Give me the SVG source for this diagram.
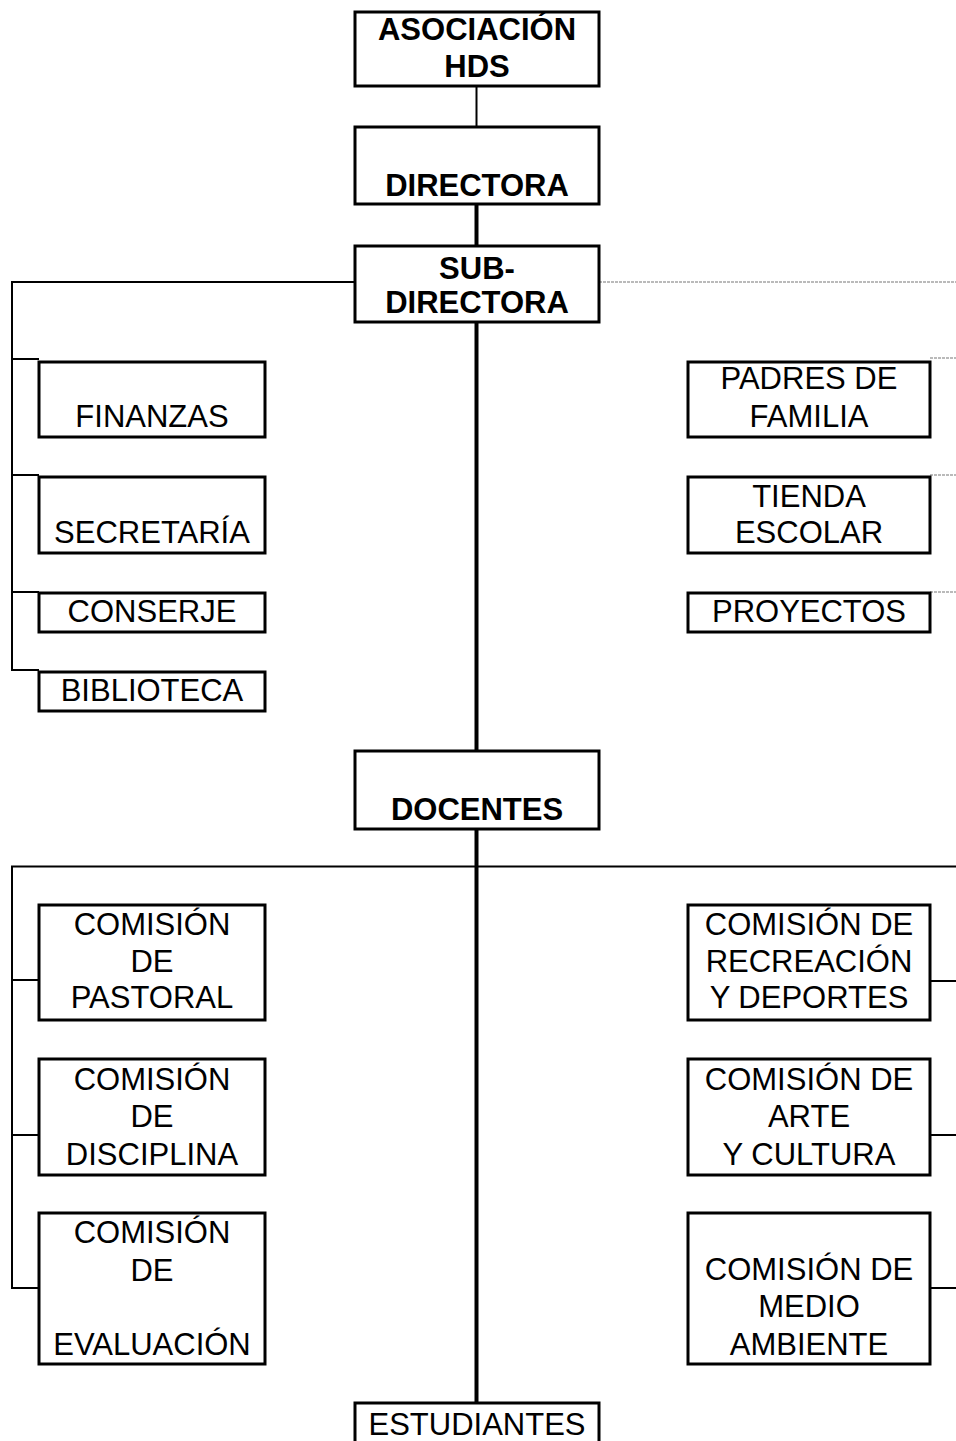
<svg xmlns="http://www.w3.org/2000/svg" width="956" height="1441" viewBox="0 0 956 1441">
<style>
.box{fill:#fff;stroke:#000;stroke-width:3}
.t{font-family:"Liberation Sans",Arial,sans-serif;font-size:31px;text-anchor:middle;fill:#000}
.b{font-weight:bold}
.c{stroke:#000;stroke-width:2;fill:none}
.k{stroke:#000;stroke-width:4;fill:none}
.d{stroke:#777;stroke-width:1.2;stroke-dasharray:3 1;fill:none}
</style>
<rect width="956" height="1441" fill="#fff"/>
<g id="connectors">
<line class="c" x1="476.5" y1="86" x2="476.5" y2="127"/>
<line class="k" x1="476.5" y1="204" x2="476.5" y2="246"/>
<polyline class="c" points="355,282 12,282 12,670 39,670"/>
<line class="c" x1="12" y1="359" x2="39" y2="359"/>
<line class="c" x1="12" y1="475" x2="39" y2="475"/>
<line class="c" x1="12" y1="592" x2="39" y2="592"/>
<line class="k" x1="476.5" y1="322" x2="476.5" y2="751"/>
<line class="d" x1="599" y1="282" x2="956" y2="282"/>
<line class="d" x1="930" y1="358" x2="956" y2="358"/>
<line class="d" x1="930" y1="475" x2="956" y2="475"/>
<line class="d" x1="930" y1="592" x2="956" y2="592"/>
<line class="k" x1="476.5" y1="829" x2="476.5" y2="1403"/>
<line class="c" x1="11" y1="866.5" x2="956" y2="866.5"/>
<line class="c" x1="12" y1="866" x2="12" y2="1289"/>
<line class="c" x1="12" y1="980" x2="39" y2="980"/>
<line class="c" x1="12" y1="1135" x2="39" y2="1135"/>
<line class="c" x1="12" y1="1288" x2="39" y2="1288"/>
<line class="c" x1="930" y1="981" x2="956" y2="981"/>
<line class="c" x1="930" y1="1135" x2="956" y2="1135"/>
<line class="c" x1="930" y1="1288" x2="956" y2="1288"/>
</g>
<g id="asociacion"><rect class="box" x="355" y="12" width="244" height="74"/><text class="t b" x="477" y="40">ASOCIACIÓN</text><text class="t b" x="477" y="77">HDS</text></g>
<g id="directora"><rect class="box" x="355" y="127" width="244" height="77"/><text class="t b" x="477" y="196">DIRECTORA</text></g>
<g id="subdirectora"><rect class="box" x="355" y="246" width="244" height="76"/><text class="t b" x="477" y="279">SUB-</text><text class="t b" x="477" y="313">DIRECTORA</text></g>
<g id="finanzas"><rect class="box" x="39" y="362" width="226" height="75"/><text class="t" x="152" y="427">FINANZAS</text></g>
<g id="secretaria"><rect class="box" x="39" y="477" width="226" height="76"/><text class="t" x="152" y="543">SECRETARÍA</text></g>
<g id="conserje"><rect class="box" x="39" y="593" width="226" height="39"/><text class="t" x="152" y="622">CONSERJE</text></g>
<g id="biblioteca"><rect class="box" x="39" y="672" width="226" height="39"/><text class="t" x="152" y="701">BIBLIOTECA</text></g>
<g id="padres"><rect class="box" x="688" y="362" width="242" height="75"/><text class="t" x="809" y="389">PADRES DE</text><text class="t" x="809" y="427">FAMILIA</text></g>
<g id="tienda"><rect class="box" x="688" y="477" width="242" height="76"/><text class="t" x="809" y="507">TIENDA</text><text class="t" x="809" y="543">ESCOLAR</text></g>
<g id="proyectos"><rect class="box" x="688" y="593" width="242" height="39"/><text class="t" x="809" y="622">PROYECTOS</text></g>
<g id="docentes"><rect class="box" x="355" y="751" width="244" height="78"/><text class="t b" x="477" y="820">DOCENTES</text></g>
<g id="pastoral"><rect class="box" x="39" y="905" width="226" height="115"/><text class="t" x="152" y="935">COMISIÓN</text><text class="t" x="152" y="972">DE</text><text class="t" x="152" y="1008">PASTORAL</text></g>
<g id="disciplina"><rect class="box" x="39" y="1059" width="226" height="116"/><text class="t" x="152" y="1090">COMISIÓN</text><text class="t" x="152" y="1127">DE</text><text class="t" x="152" y="1165">DISCIPLINA</text></g>
<g id="evaluacion"><rect class="box" x="39" y="1213" width="226" height="151"/><text class="t" x="152" y="1243">COMISIÓN</text><text class="t" x="152" y="1281">DE</text><text class="t" x="152" y="1355">EVALUACIÓN</text></g>
<g id="recreacion"><rect class="box" x="688" y="905" width="242" height="115"/><text class="t" x="809" y="935">COMISIÓN DE</text><text class="t" x="809" y="972">RECREACIÓN</text><text class="t" x="809" y="1008">Y DEPORTES</text></g>
<g id="arte"><rect class="box" x="688" y="1059" width="242" height="116"/><text class="t" x="809" y="1090">COMISIÓN DE</text><text class="t" x="809" y="1127">ARTE</text><text class="t" x="809" y="1165">Y CULTURA</text></g>
<g id="medio"><rect class="box" x="688" y="1213" width="242" height="151"/><text class="t" x="809" y="1280">COMISIÓN DE</text><text class="t" x="809" y="1317">MEDIO</text><text class="t" x="809" y="1355">AMBIENTE</text></g>
<g id="estudiantes"><rect class="box" x="355" y="1403" width="244" height="50"/><text class="t" x="477" y="1435">ESTUDIANTES</text></g>
</svg>
